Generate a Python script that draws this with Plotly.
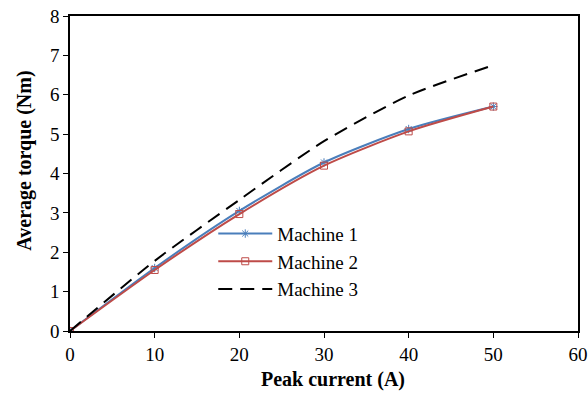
import plotly.graph_objects as go

current = [0, 10, 20, 30, 40, 50]
machine1 = [0, 1.60, 3.05, 4.28, 5.13, 5.70]
machine2 = [0, 1.55, 2.97, 4.20, 5.07, 5.70]
machine3 = [0, 1.78, 3.33, 4.82, 5.98, 6.75]

x_ticks = [0, 10, 20, 30, 40, 50, 60]
y_ticks = [0, 1, 2, 3, 4, 5, 6, 7, 8]

x_title = "<b>Peak current (A)</b>"
y_title = "<b>Average torque (Nm)</b>"

font = "'Liberation Serif', 'Times New Roman', Times, serif"

fig = go.Figure()
fig.add_trace(go.Scatter(
    x=current, y=machine1, name="Machine 1", mode="lines+markers",
    line=dict(color="#4a7ebb", width=2, shape="spline", smoothing=0.7),
    marker=dict(symbol="asterisk-open", size=7, color="#4a7ebb", line=dict(color="#4a7ebb", width=1)),
))
fig.add_trace(go.Scatter(
    x=current, y=machine2, name="Machine 2", mode="lines+markers",
    line=dict(color="#be4b48", width=2, shape="spline", smoothing=0.7),
    marker=dict(symbol="square-open", size=7, color="#be4b48", line=dict(color="#be4b48", width=1)),
))
fig.add_trace(go.Scatter(
    x=current, y=machine3, name="Machine 3", mode="lines",
    line=dict(color="black", width=2, dash="14px,8px", shape="spline", smoothing=0.7),
))

fig.update_layout(
    width=588, height=394,
    margin=dict(l=70, r=10, t=16, b=63),
    paper_bgcolor="white", plot_bgcolor="white",
    font=dict(family=font, size=18, color="black"),
    showlegend=True,
    legend=dict(x=0.282, y=0.22, xanchor="left", yanchor="middle",
                bgcolor="rgba(0,0,0,0)", itemwidth=54,
                font=dict(family=font, size=19), tracegroupgap=0),
    xaxis=dict(
        range=[0, 60], tickvals=x_ticks, ticktext=[str(v) for v in x_ticks],
        showgrid=False, zeroline=False, showline=True, linecolor="black", linewidth=1.5,
        mirror=True, ticks="outside", ticklen=5, tickcolor="black", automargin=False,
        tickfont=dict(family=font, size=19),
    ),
    yaxis=dict(
        range=[0, 8], tickvals=y_ticks, ticktext=[str(v) for v in y_ticks],
        showgrid=False, zeroline=False, showline=True, linecolor="black", linewidth=1.5,
        mirror=True, ticks="outside", ticklen=5, tickcolor="black", automargin=False,
        tickfont=dict(family=font, size=19),
    ),
    annotations=[
        dict(text=x_title, xref="paper", yref="paper", x=0.518, y=-0.155,
             xanchor="center", yanchor="middle", showarrow=False,
             font=dict(family=font, size=20)),
        dict(text=y_title, xref="paper", yref="paper", x=-0.089, y=0.54,
             xanchor="center", yanchor="middle", showarrow=False, textangle=-90,
             font=dict(family=font, size=20)),
    ],
)

fig.write_html("out.html", post_script="document.body.style.margin='0';",
               config={"displayModeBar": False})
